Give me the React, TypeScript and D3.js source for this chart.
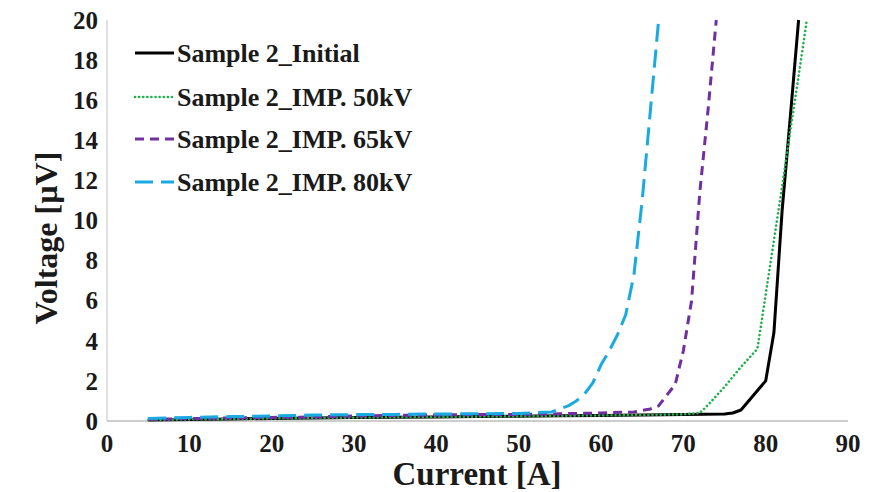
import React from "react";
import * as d3 from "d3";

const seriesNames = [
  "Sample 2_Initial",
  "Sample 2_IMP. 50kV",
  "Sample 2_IMP. 65kV",
  "Sample 2_IMP. 80kV",
];

const currentInitial = [5, 10, 15, 20, 25, 30, 35, 40, 45, 50, 55, 60, 65, 70, 75, 76, 77, 80, 81, 82, 83, 84];
const voltageInitial = [0.05, 0.08, 0.1, 0.13, 0.15, 0.17, 0.19, 0.2, 0.22, 0.24, 0.26, 0.28, 0.3, 0.32, 0.35, 0.4, 0.55, 2.0, 4.4, 10.5, 15.2, 20];

const current50 = [5, 10, 15, 20, 25, 30, 35, 40, 45, 50, 55, 60, 65, 70, 72, 73, 75, 77, 79, 80, 81, 82, 83, 84, 85];
const voltage50 = [0.05, 0.08, 0.1, 0.13, 0.15, 0.17, 0.19, 0.2, 0.22, 0.24, 0.26, 0.28, 0.3, 0.33, 0.4, 0.8, 1.7, 2.7, 3.6, 6.3, 9, 11.7, 14.5, 17.2, 20];

const current65 = [5, 10, 15, 20, 25, 30, 35, 40, 45, 50, 55, 60, 64, 66, 67, 68, 69, 70, 71, 72, 73, 74];
const voltage65 = [0.08, 0.12, 0.15, 0.18, 0.2, 0.25, 0.28, 0.3, 0.32, 0.33, 0.36, 0.4, 0.45, 0.6, 0.75, 1.3, 1.8, 3.5, 6.0, 11.4, 15.5, 20];

const current80 = [5, 10, 15, 20, 25, 30, 35, 40, 45, 50, 54, 55, 56, 57, 58, 59, 60, 61, 62, 63, 64, 65, 66, 67];
const voltage80 = [0.12, 0.18, 0.22, 0.25, 0.3, 0.32, 0.33, 0.35, 0.36, 0.38, 0.45, 0.6, 0.75, 1.0, 1.35, 1.9, 2.8, 3.5, 4.3, 5.3, 7.3, 11, 15.5, 20];

const xTicks = [0, 10, 20, 30, 40, 50, 60, 70, 80, 90];
const yTicks = [0, 2, 4, 6, 8, 10, 12, 14, 16, 18, 20];

const styles = [
  { color: "#000000", dash: "", cap: "butt" },
  { color: "#22b04f", dash: "0.1 4", cap: "round" },
  { color: "#7030a0", dash: "9 6", cap: "butt" },
  { color: "#1aa9e1", dash: "18 8", cap: "butt" },
];

const W = 881;
const H = 492;
const font = "'Liberation Serif', 'Times New Roman', serif";

export default function App() {
  const x = d3.scaleLinear().domain([0, 90]).range([107, 848]);
  const y = d3.scaleLinear().domain([0, 20]).range([421, 20]);
  const line = d3
    .line<[number, number]>()
    .x((d) => x(d[0]))
    .y((d) => y(d[1]));

  const series = [
    d3.zip(currentInitial, voltageInitial) as [number, number][],
    d3.zip(current50, voltage50) as [number, number][],
    d3.zip(current65, voltage65) as [number, number][],
    d3.zip(current80, voltage80) as [number, number][],
  ];

  const legendY = [53, 97, 139, 182];

  return (
    <svg
      width={W}
      height={H}
      style={{ position: "absolute", left: 0, top: 0, background: "#fff" }}
      fontFamily={font}
    >
      <rect x={0} y={0} width={W} height={H} fill="#fff" />
      <line x1={x(0)} x2={x(0)} y1={y(20)} y2={y(0)} stroke="#d0d0d0" strokeWidth={1.3} />
      <line x1={x(0)} x2={x(90)} y1={y(0)} y2={y(0)} stroke="#bdbdbd" strokeWidth={1.5} />
      {yTicks.map((t) => (
        <text
          key={"y" + t}
          x={98}
          y={y(t)}
          dy="0.35em"
          textAnchor="end"
          fontSize={25}
          fontWeight="bold"
          fill="#1a1a1a"
        >
          {t}
        </text>
      ))}
      {xTicks.map((t) => (
        <text
          key={"x" + t}
          x={x(t)}
          y={443}
          dy="0.35em"
          textAnchor="middle"
          fontSize={25}
          fontWeight="bold"
          fill="#1a1a1a"
        >
          {t}
        </text>
      ))}
      <text
        x={477}
        y={485}
        textAnchor="middle"
        fontSize={33}
        fontWeight="bold"
        fill="#1a1a1a"
      >
        Current [A]
      </text>
      <text
        transform={`translate(57,238) rotate(-90)`}
        textAnchor="middle"
        fontSize={32}
        fontWeight="bold"
        fill="#1a1a1a"
      >
        Voltage [µV]
      </text>
      {series.map((s, i) => (
        <path
          key={"s" + i}
          d={line(s) || ""}
          fill="none"
          stroke={styles[i].color}
          strokeWidth={i === 1 ? 2.6 : 3}
          strokeDasharray={styles[i].dash}
          strokeLinecap={styles[i].cap as any}
          strokeLinejoin="round"
        />
      ))}
      {seriesNames.map((name, i) => (
        <g key={"l" + i}>
          <line
            x1={135}
            x2={174}
            y1={legendY[i]}
            y2={legendY[i]}
            stroke={styles[i].color}
            strokeWidth={i === 1 ? 2.6 : 3}
            strokeDasharray={styles[i].dash}
            strokeLinecap={styles[i].cap as any}
          />
          <text
            x={177}
            y={legendY[i]}
            dy="0.35em"
            fontSize={26}
            fontWeight="bold"
            fill="#1a1a1a"
          >
            {name}
          </text>
        </g>
      ))}
    </svg>
  );
}
